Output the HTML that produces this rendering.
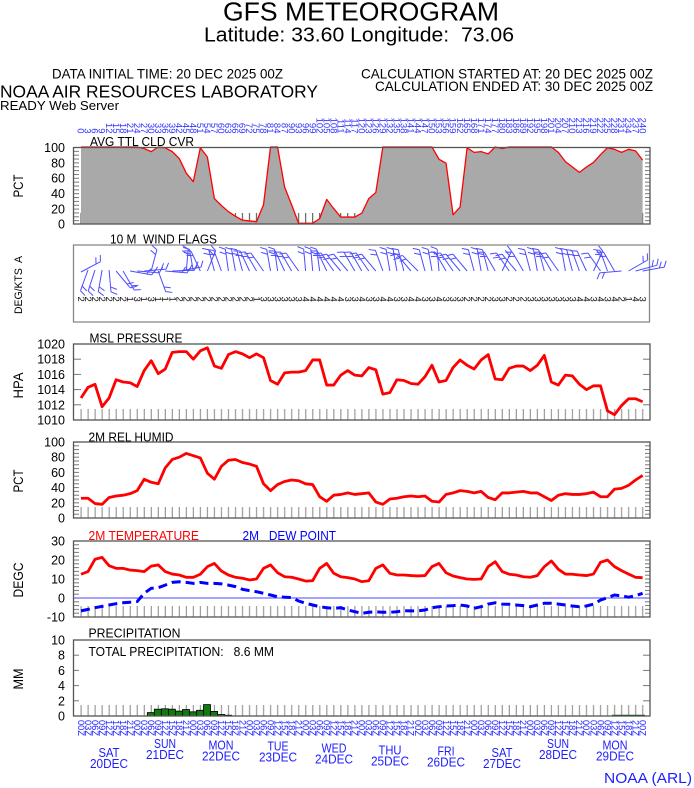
<!DOCTYPE html>
<html><head><meta charset="utf-8"><style>
html,body{margin:0;padding:0;background:#fff;}
svg{display:block;font-family:"Liberation Sans",Arial,sans-serif;}
text{white-space:pre;}
</style></head><body>
<svg width="694" height="788" viewBox="0 0 694 788" xmlns="http://www.w3.org/2000/svg">
<defs>
<pattern id="tk" patternUnits="userSpaceOnUse" x="77.5" y="0" width="7.02" height="20"><rect x="3" y="0" width="1.2" height="20" fill="#9a9a9a"/></pattern>
<pattern id="tkd" patternUnits="userSpaceOnUse" x="77.5" y="0" width="7.02" height="20"><rect x="3" y="0" width="1" height="20" fill="#444"/></pattern>
<pattern id="p1" patternUnits="userSpaceOnUse" x="0" y="147" width="10" height="3.85"><rect width="10" height="1" fill="#777"/></pattern>
<pattern id="p2" patternUnits="userSpaceOnUse" x="0" y="343.5" width="10" height="15.2"><rect width="10" height="1" fill="#777"/></pattern>
<pattern id="p3" patternUnits="userSpaceOnUse" x="0" y="441.5" width="10" height="3.8"><rect width="10" height="1" fill="#777"/></pattern>
<pattern id="p4" patternUnits="userSpaceOnUse" x="0" y="540.5" width="10" height="3.8"><rect width="10" height="1" fill="#777"/></pattern>
<pattern id="p5" patternUnits="userSpaceOnUse" x="0" y="639.5" width="10" height="15.2"><rect width="10" height="1" fill="#777"/></pattern>
<path id="b" d="M0,0V-22M0,-22l-6,-3M0,-17l-6,-3"/>
</defs>

<!-- Header -->
<text x="223" y="20.5" font-size="25.5" textLength="276" lengthAdjust="spacingAndGlyphs">GFS METEOROGRAM</text>
<text x="204" y="41.5" font-size="20.5" textLength="310" lengthAdjust="spacingAndGlyphs">Latitude: 33.60 Longitude:  73.06</text>
<text x="52" y="78.3" font-size="14" textLength="231" lengthAdjust="spacingAndGlyphs">DATA INITIAL TIME: 20 DEC 2025 00Z</text>
<text x="361" y="78.3" font-size="14" textLength="292" lengthAdjust="spacingAndGlyphs">CALCULATION STARTED AT: 20 DEC 2025 00Z</text>
<text x="375" y="91" font-size="14" textLength="278" lengthAdjust="spacingAndGlyphs">CALCULATION ENDED AT: 30 DEC 2025 00Z</text>
<text x="0" y="97.7" font-size="17.5" textLength="318" lengthAdjust="spacingAndGlyphs">NOAA AIR RESOURCES LABORATORY</text>
<text x="0" y="110" font-size="12.5" textLength="119" lengthAdjust="spacingAndGlyphs">READY Web Server</text>

<!-- Top hour labels -->
<g transform="translate(77.7,133.5) rotate(90)" font-size="9.5" fill="#3535ff" text-anchor="end">
<text y="0">0</text><text y="-7.02">3</text><text y="-14.04">6</text><text y="-21.06">9</text><text y="-28.08">12</text><text y="-35.1">15</text><text y="-42.12">18</text><text y="-49.14">21</text><text y="-56.16">24</text><text y="-63.18">27</text>
<text y="-70.2">30</text><text y="-77.22">33</text><text y="-84.24">36</text><text y="-91.26">39</text><text y="-98.28">42</text><text y="-105.3">45</text><text y="-112.32">48</text><text y="-119.34">51</text><text y="-126.36">54</text><text y="-133.38">57</text>
<text y="-140.4">60</text><text y="-147.42">63</text><text y="-154.44">66</text><text y="-161.46">69</text><text y="-168.48">72</text><text y="-175.5">75</text><text y="-182.52">78</text><text y="-189.54">81</text><text y="-196.56">84</text><text y="-203.58">87</text>
<text y="-210.6">90</text><text y="-217.62">93</text><text y="-224.64">96</text><text y="-231.66">99</text><text y="-238.68">102</text><text y="-245.7">105</text><text y="-252.72">108</text><text y="-259.74">111</text><text y="-266.76">114</text><text y="-273.78">117</text>
<text y="-280.8">120</text><text y="-287.82">123</text><text y="-294.84">126</text><text y="-301.86">129</text><text y="-308.88">132</text><text y="-315.9">135</text><text y="-322.92">138</text><text y="-329.94">141</text><text y="-336.96">144</text><text y="-343.98">147</text>
<text y="-351">150</text><text y="-358.02">153</text><text y="-365.04">156</text><text y="-372.06">159</text><text y="-379.08">162</text><text y="-386.1">165</text><text y="-393.12">168</text><text y="-400.14">171</text><text y="-407.16">174</text><text y="-414.18">177</text>
<text y="-421.2">180</text><text y="-428.22">183</text><text y="-435.24">186</text><text y="-442.26">189</text><text y="-449.28">192</text><text y="-456.3">195</text><text y="-463.32">198</text><text y="-470.34">201</text><text y="-477.36">204</text><text y="-484.38">207</text>
<text y="-491.4">210</text><text y="-498.42">213</text><text y="-505.44">216</text><text y="-512.46">219</text><text y="-519.48">222</text><text y="-526.5">225</text><text y="-533.52">228</text><text y="-540.54">231</text><text y="-547.56">234</text><text y="-554.58">237</text>
<text y="-561.6">240</text>
</g>

<!-- ===== Cloud panel ===== -->
<text x="90" y="146" font-size="12.5" textLength="104" lengthAdjust="spacingAndGlyphs">AVG TTL CLD CVR</text>
<rect x="77.5" y="213" width="568" height="11" fill="url(#tkd)"/>
<g transform="translate(81,224) scale(7.02,-0.77)">
<polygon fill="#a9a9a9" points="0,0 0,100 1,100 2,100 3,100 4,100 5,100 6,100 7,100 8,100 9,98 10,94 11,100 12,99 13,94 14,85 15,66 16,55 17,99 18,87 19,33 20,24 21,16 22,10 23,5 24,4 25,3 26,25 27,100 28,100 29,48 30,25 31,1 32,1 33,1 34,7 35,32 36,20 37,9 38,9 39,9 40,14 41,33 42,41 43,100 44,100 45,100 46,100 47,100 48,100 49,100 50,100 51,84 52,79 53,12 54,22 55,99 56,93 57,94 58,91 59,100 60,98 61,100 62,100 63,100 64,100 65,100 66,100 67,100 68,93 69,81 70,74 71,67 72,74 73,80 74,90 75,99 76,97 77,93 78,97 79,95 80,83 80,0"/>
<polyline fill="none" stroke="#ff0000" stroke-width="1.3" vector-effect="non-scaling-stroke" stroke-linejoin="round" points="0,100 1,100 2,100 3,100 4,100 5,100 6,100 7,100 8,100 9,98 10,94 11,100 12,99 13,94 14,85 15,66 16,55 17,99 18,87 19,33 20,24 21,16 22,10 23,5 24,4 25,3 26,25 27,100 28,100 29,48 30,25 31,1 32,1 33,1 34,7 35,32 36,20 37,9 38,9 39,9 40,14 41,33 42,41 43,100 44,100 45,100 46,100 47,100 48,100 49,100 50,100 51,84 52,79 53,12 54,22 55,99 56,93 57,94 58,91 59,100 60,98 61,100 62,100 63,100 64,100 65,100 66,100 67,100 68,93 69,81 70,74 71,67 72,74 73,80 74,90 75,99 76,97 77,93 78,97 79,95 80,83"/>
</g>
<rect x="74" y="147" width="5" height="77" fill="url(#p1)"/>
<rect x="645" y="147" width="5" height="77" fill="url(#p1)"/>
<rect x="73.5" y="147.5" width="576.5" height="76.5" fill="none" stroke="#555" stroke-width="1.3"/>
<g font-size="12.5" text-anchor="end">
<text x="65" y="152">100</text><text x="65" y="167.4">80</text><text x="65" y="182.7">60</text><text x="65" y="198.1">40</text><text x="65" y="213.4">20</text><text x="65" y="228.5">0</text>
</g>
<text transform="translate(23,186) rotate(-90)" font-size="13.5" text-anchor="middle" textLength="23" lengthAdjust="spacingAndGlyphs">PCT</text>

<!-- ===== Wind panel ===== -->
<text x="110" y="243.3" font-size="12.5" textLength="107" lengthAdjust="spacingAndGlyphs">10 M  WIND FLAGS</text>
<rect x="73.5" y="245" width="576" height="77" fill="none" stroke="#888" stroke-width="1.3"/>
<text transform="translate(22,285) rotate(-90)" font-size="11" text-anchor="middle" textLength="58" lengthAdjust="spacingAndGlyphs">DEG/KTS  A</text>
<g stroke="#4d4dff" stroke-width="1" fill="none">
<use href="#b" transform="translate(81,272) rotate(62)"/>
<use href="#b" transform="translate(88,270) rotate(-160)"/>
<use href="#b" transform="translate(95,270) rotate(-162)"/>
<use href="#b" transform="translate(102.1,270) rotate(-170)"/>
<use href="#b" transform="translate(109.1,270) rotate(175)"/>
<use href="#b" transform="translate(116.1,271) rotate(140)"/>
<use href="#b" transform="translate(123.1,271) rotate(150)"/>
<use href="#b" transform="translate(130.1,271) rotate(100)"/>
<use href="#b" transform="translate(137.2,271) rotate(95)"/>
<use href="#b" transform="translate(144.2,271) rotate(85)"/>
<use href="#b" transform="translate(151.2,271) rotate(15)"/>
<use href="#b" transform="translate(158.2,271) rotate(160)"/>
<use href="#b" transform="translate(165.2,271) rotate(95)"/>
<use href="#b" transform="translate(172.3,271) rotate(88)"/>
<use href="#b" transform="translate(179.3,271) rotate(80)"/>
<use href="#b" transform="translate(186.3,271) rotate(5)"/>
<use href="#b" transform="translate(193.3,271) rotate(-10)"/>
<use href="#b" transform="translate(200.3,271) rotate(-25)"/>
<use href="#b" transform="translate(207.4,271) rotate(22)"/>
<use href="#b" transform="translate(214.4,271) rotate(-15)"/>
<use href="#b" transform="translate(221.4,271) rotate(-20)"/>
<use href="#b" transform="translate(228.4,271) rotate(-8)"/>
<use href="#b" transform="translate(235.4,271) rotate(-10)"/>
<use href="#b" transform="translate(242.5,271) rotate(-15)"/>
<use href="#b" transform="translate(249.5,271) rotate(-25)"/>
<use href="#b" transform="translate(256.5,271) rotate(-30)"/>
<use href="#b" transform="translate(263.5,271) rotate(-35)"/>
<use href="#b" transform="translate(270.5,271) rotate(-10)"/>
<use href="#b" transform="translate(277.6,271) rotate(-8)"/>
<use href="#b" transform="translate(284.6,271) rotate(-25)"/>
<use href="#b" transform="translate(291.6,271) rotate(-30)"/>
<use href="#b" transform="translate(298.6,271) rotate(-35)"/>
<use href="#b" transform="translate(305.6,271) rotate(-5)"/>
<use href="#b" transform="translate(312.7,271) rotate(-5)"/>
<use href="#b" transform="translate(319.7,271) rotate(-8)"/>
<use href="#b" transform="translate(326.7,271) rotate(-25)"/>
<use href="#b" transform="translate(333.7,271) rotate(-35)"/>
<use href="#b" transform="translate(340.7,271) rotate(-40)"/>
<use href="#b" transform="translate(347.8,271) rotate(-40)"/>
<use href="#b" transform="translate(354.8,271) rotate(-30)"/>
<use href="#b" transform="translate(361.8,271) rotate(-30)"/>
<use href="#b" transform="translate(368.8,271) rotate(-35)"/>
<use href="#b" transform="translate(375.8,271) rotate(-40)"/>
<use href="#b" transform="translate(382.9,271) rotate(-20)"/>
<use href="#b" transform="translate(389.9,271) rotate(-10)"/>
<use href="#b" transform="translate(396.9,271) rotate(-10)"/>
<use href="#b" transform="translate(403.9,271) rotate(-15)"/>
<use href="#b" transform="translate(410.9,271) rotate(-40)"/>
<use href="#b" transform="translate(418,271) rotate(-45)"/>
<use href="#b" transform="translate(425,271) rotate(-15)"/>
<use href="#b" transform="translate(432,271) rotate(-10)"/>
<use href="#b" transform="translate(439,271) rotate(-5)"/>
<use href="#b" transform="translate(446,271) rotate(-30)"/>
<use href="#b" transform="translate(453.1,271) rotate(-35)"/>
<use href="#b" transform="translate(460.1,271) rotate(-40)"/>
<use href="#b" transform="translate(467.1,271) rotate(-40)"/>
<use href="#b" transform="translate(474.1,271) rotate(-15)"/>
<use href="#b" transform="translate(481.1,271) rotate(-10)"/>
<use href="#b" transform="translate(488.2,271) rotate(-15)"/>
<use href="#b" transform="translate(495.2,271) rotate(-30)"/>
<use href="#b" transform="translate(502.2,271) rotate(25)"/>
<use href="#b" transform="translate(509.2,271) rotate(-35)"/>
<use href="#b" transform="translate(516.2,271) rotate(-40)"/>
<use href="#b" transform="translate(523.3,271) rotate(-30)"/>
<use href="#b" transform="translate(530.3,271) rotate(-15)"/>
<use href="#b" transform="translate(537.3,271) rotate(-10)"/>
<use href="#b" transform="translate(544.3,271) rotate(-15)"/>
<use href="#b" transform="translate(551.3,271) rotate(-30)"/>
<use href="#b" transform="translate(558.4,271) rotate(-35)"/>
<use href="#b" transform="translate(565.4,271) rotate(-10)"/>
<use href="#b" transform="translate(572.4,271) rotate(-15)"/>
<use href="#b" transform="translate(579.4,271) rotate(-20)"/>
<use href="#b" transform="translate(586.4,271) rotate(-25)"/>
<use href="#b" transform="translate(593.5,271) rotate(25)"/>
<use href="#b" transform="translate(600.5,271) rotate(-35)"/>
<use href="#b" transform="translate(607.5,271) rotate(-20)"/>
<use href="#b" transform="translate(614.5,271) rotate(-30)"/>
<use href="#b" transform="translate(621.5,271) rotate(-95)"/>
<use href="#b" transform="translate(628.6,271) rotate(60)"/>
<use href="#b" transform="translate(635.6,271) rotate(75)"/>
<use href="#b" transform="translate(642.6,271) rotate(80)"/>
</g>
<text y="296.5" font-size="9.5" fill="#111" rotate="90" x="78 85 92 99.1 106.1 113.1 120.1 127.1 134.2 141.2 148.2 155.2 162.2 169.3 176.3 183.3 190.3 197.3 204.4 211.4 218.4 225.4 232.4 239.5 246.5 253.5 260.5 267.5 274.6 281.6 288.6 295.6 302.6 309.7 316.7 323.7 330.7 337.7 344.8 351.8 358.8 365.8 372.8 379.9 386.9 393.9 400.9 407.9 415 422 429 436 443 450.1 457.1 464.1 471.1 478.1 485.2 492.2 499.2 506.2 513.2 520.3 527.3 534.3 541.3 548.3 555.4 562.4 569.4 576.4 583.4 590.5 597.5 604.5 611.5 618.5 625.6 632.6 639.6">222222213131112222222222213333334444443343344334433433322223322233333334434342143</text>

<!-- ===== Pressure panel ===== -->
<text x="89.5" y="342.6" font-size="12.5" textLength="93" lengthAdjust="spacingAndGlyphs">MSL PRESSURE</text>
<rect x="77.5" y="409" width="568" height="11" fill="url(#tk)"/>
<rect x="74" y="344" width="7" height="76" fill="url(#p2)"/>
<rect x="643" y="344" width="7" height="76" fill="url(#p2)"/>
<g transform="translate(81,420) scale(7.02,-7.6)">
<polyline fill="none" stroke="#ff0000" stroke-width="2.8" vector-effect="non-scaling-stroke" stroke-linejoin="round" points="0,2.9 1,4.3 2,4.7 3,1.75 4,2.9 5,5.3 6,5 7,4.9 8,4.4 9,6.5 10,7.8 11,6.1 12,6.7 13,8.9 14,9 15,9 16,8 17,9.1 18,9.5 19,7.1 20,6.8 21,8.6 22,9 23,8.7 24,8.2 25,8.7 26,8.2 27,5.2 28,4.7 29,6.2 30,6.3 31,6.3 32,6.5 33,7.9 34,7.9 35,4.6 36,4.6 37,5.9 38,6.5 39,5.9 40,5.8 41,6.9 42,6.6 43,3.4 44,3.6 45,5.3 46,5.2 47,4.8 48,4.7 49,5.7 50,7.2 51,5 52,5.2 53,6.9 54,7.9 55,7.2 56,6.7 57,7.9 58,8.6 59,5.4 60,5.3 61,6.8 62,7.1 63,7.1 64,6.5 65,7.2 66,8.5 67,5 68,4.6 69,5.9 70,5.8 71,4.7 72,4 73,4.5 74,4.5 75,1.2 76,0.7 77,1.9 78,2.8 79,2.8 80,2.4"/>
</g>
<rect x="73.5" y="344" width="576.5" height="76" fill="none" stroke="#555" stroke-width="1.3"/>
<g font-size="12.5" text-anchor="end">
<text x="65" y="348.5">1020</text><text x="65" y="363.7">1018</text><text x="65" y="378.9">1016</text><text x="65" y="394.1">1014</text><text x="65" y="409.3">1012</text><text x="65" y="424.5">1010</text>
</g>
<text transform="translate(23,385.5) rotate(-90)" font-size="13.5" text-anchor="middle" textLength="26" lengthAdjust="spacingAndGlyphs">HPA</text>

<!-- ===== Humidity panel ===== -->
<text x="88.5" y="441.5" font-size="12.5" textLength="85" lengthAdjust="spacingAndGlyphs">2M REL HUMID</text>
<rect x="77.5" y="507" width="568" height="11" fill="url(#tk)"/>
<rect x="74" y="442" width="5" height="76" fill="url(#p3)"/>
<rect x="645" y="442" width="5" height="76" fill="url(#p3)"/>
<g transform="translate(81,518) scale(7.02,-0.76)">
<polyline fill="none" stroke="#ff0000" stroke-width="2.8" vector-effect="non-scaling-stroke" stroke-linejoin="round" points="0,26 1,26 2,19 3,18 4,27 5,29 6,30 7,32 8,36 9,51 10,47 11,45 12,66 13,77 14,80 15,85 16,82 17,79 18,59 19,51 20,68 21,76 22,77 23,73 24,71 25,68 26,45 27,36 28,44 29,48 30,50 31,49 32,45 33,44 34,28 35,22 36,30 37,31 38,33 39,31 40,32 41,33 42,21 43,18 44,25 45,26 46,28 47,29 48,28 49,29 50,22 51,21 52,31 53,33 54,36 55,35 56,33 57,35 58,27 59,24 60,33 61,33 62,34 63,35 64,33 65,33 66,28 67,23 68,30 69,32 70,31 71,31 72,32 73,34 74,28 75,28 76,38 77,39 78,43 79,50 80,56"/>
</g>
<rect x="73.5" y="442" width="576.5" height="76" fill="none" stroke="#555" stroke-width="1.3"/>
<g font-size="12.5" text-anchor="end">
<text x="65" y="446.5">100</text><text x="65" y="461.7">80</text><text x="65" y="476.9">60</text><text x="65" y="492.1">40</text><text x="65" y="507.3">20</text><text x="65" y="522.5">0</text>
</g>
<text transform="translate(23,481) rotate(-90)" font-size="13.5" text-anchor="middle" textLength="23" lengthAdjust="spacingAndGlyphs">PCT</text>

<!-- ===== Temperature panel ===== -->
<text x="88.5" y="540" font-size="12.5" fill="#ff0000" textLength="110.5" lengthAdjust="spacingAndGlyphs">2M TEMPERATURE</text>
<text x="242.5" y="540" font-size="12.5" fill="#0000ff" textLength="93.5" lengthAdjust="spacingAndGlyphs">2M   DEW POINT</text>
<rect x="77.5" y="606" width="568" height="11" fill="url(#tk)"/>
<rect x="74" y="541" width="5" height="76" fill="url(#p4)"/>
<rect x="645" y="541" width="5" height="76" fill="url(#p4)"/>
<line x1="74" y1="598" x2="650" y2="598" stroke="#4a4aff" stroke-width="1"/>
<g transform="translate(81,598) scale(7.02,-1.9)">
<polyline fill="none" stroke="#ff0000" stroke-width="2.8" vector-effect="non-scaling-stroke" stroke-linejoin="round" points="0,12.5 1,13.9 2,20.4 3,21.4 4,17 5,15.6 6,15.6 7,14.7 8,14.4 9,13.9 10,16.8 11,17.4 12,13.9 13,12.6 14,12.1 15,10.9 16,10.9 17,12.5 18,16.5 19,18.2 20,14.2 21,12.1 22,10.9 23,10.4 24,9.5 25,10 26,15.6 27,17.4 28,13.3 29,11.2 30,10.9 31,10 32,8.9 33,9.1 34,15.6 35,18.2 36,13 37,11.2 38,10.7 39,10 40,8.6 41,9.1 42,15.6 43,17.4 44,13 45,12.1 46,12.1 47,11.8 48,11.6 49,11.8 50,16.5 51,18.2 52,13.3 53,11.6 54,10.7 55,10 56,9.8 57,10 58,16.5 59,19.1 60,13.9 61,12.5 62,12.1 63,11.2 64,10.9 65,11.8 66,16.5 67,19.5 68,15.1 69,12.6 70,12.5 71,12.1 72,11.8 73,12.6 74,18.8 75,20 76,16.5 77,14.4 78,12.6 79,10.9 80,10.7"/>
</g>
<polyline fill="none" stroke="#0000ff" stroke-width="3" stroke-dasharray="9,5" points="81,610.9 88,609.4 95,607.7 102.1,606.4 109.1,605 116.1,603.7 123.1,602.8 130.1,602.2 137.2,601.6 144.2,593.3 151.2,588.3 158.2,587.7 165.2,585.1 172.3,582.4 179.3,581.7 186.3,582.4 193.3,583.4 200.3,582.4 207.4,583.4 214.4,583.4 221.4,583.9 228.4,585.1 235.4,586.6 242.5,589.3 249.5,590.6 256.5,591.7 263.5,593.3 270.5,595 277.6,596.7 284.6,597.2 291.6,597.6 298.6,601 305.6,603.3 312.7,605 319.7,606.7 326.7,607.7 333.7,608.3 340.7,607.7 347.8,610 354.8,611.7 361.8,613.4 368.8,612.3 375.8,611.7 382.9,612.3 389.9,612.3 396.9,611.7 403.9,610.7 410.9,610.9 418,610.9 425,610 432,607.7 439,606.7 446,606 453.1,605.6 460.1,605 467.1,606 474.1,608.3 481.1,606.7 488.2,604.1 495.2,602.8 502.2,604.1 509.2,604.3 516.2,605 523.3,605.6 530.3,606.7 537.3,605 544.3,603.3 551.3,603.3 558.4,604.1 565.4,605 572.4,606 579.4,606.7 586.4,606 593.5,604.1 600.5,600.1 607.5,597.6 614.5,595 621.5,595.9 628.6,597.2 635.6,595.7 642.6,593.3"/>
<rect x="73.5" y="541" width="576.5" height="76" fill="none" stroke="#555" stroke-width="1.3"/>
<g font-size="12.5" text-anchor="end">
<text x="65" y="545.5">30</text><text x="65" y="564.5">20</text><text x="65" y="583.5">10</text><text x="65" y="602.5">0</text><text x="65" y="621.5">-10</text>
</g>
<text transform="translate(23,580) rotate(-90)" font-size="13.5" text-anchor="middle" textLength="35" lengthAdjust="spacingAndGlyphs">DEGC</text>

<!-- ===== Precipitation panel ===== -->
<text x="88.5" y="637.5" font-size="12.5" textLength="92" lengthAdjust="spacingAndGlyphs">PRECIPITATION</text>
<text x="88.5" y="656" font-size="12.5" textLength="185.5" lengthAdjust="spacingAndGlyphs">TOTAL PRECIPITATION:   8.6 MM</text>
<rect x="77.5" y="705" width="568" height="11" fill="url(#tk)"/>
<rect x="643" y="640" width="7" height="76" fill="url(#p5)"/>
<rect x="74" y="640" width="5" height="76" fill="url(#p5)"/>
<g fill="#107a10" stroke="#000" stroke-width="0.8">
<rect x="147.3" y="712.6" width="7" height="3.4"/>
<rect x="154.3" y="709.2" width="7" height="6.8"/>
<rect x="161.4" y="708.8" width="7" height="7.2"/>
<rect x="168.4" y="709.2" width="7" height="6.8"/>
<rect x="175.4" y="711.1" width="7" height="4.9"/>
<rect x="182.5" y="709.5" width="7" height="6.5"/>
<rect x="189.5" y="711.8" width="7" height="4.2"/>
<rect x="196.5" y="710.3" width="7" height="5.7"/>
<rect x="203.5" y="704.6" width="7" height="11.4"/>
<rect x="210.6" y="711.4" width="7" height="4.6"/>
<rect x="217.6" y="714.5" width="7" height="1.5"/>
<rect x="224.6" y="715.2" width="7" height="0.8"/>
</g>
<line x1="612" y1="715.3" x2="645" y2="715.3" stroke="#105510" stroke-width="1"/>
<rect x="73.5" y="640" width="576.5" height="76" fill="none" stroke="#555" stroke-width="1.3"/>
<g font-size="12.5" text-anchor="end">
<text x="65" y="644.5">10</text><text x="65" y="659.7">8</text><text x="65" y="674.9">6</text><text x="65" y="690.1">4</text><text x="65" y="705.3">2</text><text x="65" y="720.5">0</text>
</g>
<text transform="translate(23,679) rotate(-90)" font-size="13.5" text-anchor="middle" textLength="21" lengthAdjust="spacingAndGlyphs">MM</text>

<!-- Bottom hour labels -->
<g transform="translate(77.8,720) rotate(90)" font-size="9.3" fill="#2020ff">
<text y="0">00Z</text><text y="-7.02">03Z</text><text y="-14.04">06Z</text><text y="-21.06">09Z</text><text y="-28.08">12Z</text><text y="-35.1">15Z</text><text y="-42.12">18Z</text><text y="-49.14">21Z</text>
<text y="-56.16">00Z</text><text y="-63.18">03Z</text><text y="-70.2">06Z</text><text y="-77.22">09Z</text><text y="-84.24">12Z</text><text y="-91.26">15Z</text><text y="-98.28">18Z</text><text y="-105.3">21Z</text>
<text y="-112.32">00Z</text><text y="-119.34">03Z</text><text y="-126.36">06Z</text><text y="-133.38">09Z</text><text y="-140.4">12Z</text><text y="-147.42">15Z</text><text y="-154.44">18Z</text><text y="-161.46">21Z</text>
<text y="-168.48">00Z</text><text y="-175.5">03Z</text><text y="-182.52">06Z</text><text y="-189.54">09Z</text><text y="-196.56">12Z</text><text y="-203.58">15Z</text><text y="-210.6">18Z</text><text y="-217.62">21Z</text>
<text y="-224.64">00Z</text><text y="-231.66">03Z</text><text y="-238.68">06Z</text><text y="-245.7">09Z</text><text y="-252.72">12Z</text><text y="-259.74">15Z</text><text y="-266.76">18Z</text><text y="-273.78">21Z</text>
<text y="-280.8">00Z</text><text y="-287.82">03Z</text><text y="-294.84">06Z</text><text y="-301.86">09Z</text><text y="-308.88">12Z</text><text y="-315.9">15Z</text><text y="-322.92">18Z</text><text y="-329.94">21Z</text>
<text y="-336.96">00Z</text><text y="-343.98">03Z</text><text y="-351">06Z</text><text y="-358.02">09Z</text><text y="-365.04">12Z</text><text y="-372.06">15Z</text><text y="-379.08">18Z</text><text y="-386.1">21Z</text>
<text y="-393.12">00Z</text><text y="-400.14">03Z</text><text y="-407.16">06Z</text><text y="-414.18">09Z</text><text y="-421.2">12Z</text><text y="-428.22">15Z</text><text y="-435.24">18Z</text><text y="-442.26">21Z</text>
<text y="-449.28">00Z</text><text y="-456.3">03Z</text><text y="-463.32">06Z</text><text y="-470.34">09Z</text><text y="-477.36">12Z</text><text y="-484.38">15Z</text><text y="-491.4">18Z</text><text y="-498.42">21Z</text>
<text y="-505.44">00Z</text><text y="-512.46">03Z</text><text y="-519.48">06Z</text><text y="-526.5">09Z</text><text y="-533.52">12Z</text><text y="-540.54">15Z</text><text y="-547.56">18Z</text><text y="-554.58">21Z</text>
<text y="-561.6">00Z</text>
</g>

<!-- Day labels -->
<g font-size="12.5" fill="#2020ff" text-anchor="middle">
<text x="109" y="757" textLength="21" lengthAdjust="spacingAndGlyphs">SAT</text><text x="109" y="768" textLength="38" lengthAdjust="spacingAndGlyphs">20DEC</text>
<text x="165" y="748" textLength="22" lengthAdjust="spacingAndGlyphs">SUN</text><text x="165" y="759" textLength="38" lengthAdjust="spacingAndGlyphs">21DEC</text>
<text x="221" y="749.5" textLength="25" lengthAdjust="spacingAndGlyphs">MON</text><text x="221" y="760.5" textLength="38" lengthAdjust="spacingAndGlyphs">22DEC</text>
<text x="278" y="750.5" textLength="21" lengthAdjust="spacingAndGlyphs">TUE</text><text x="278" y="761.5" textLength="38" lengthAdjust="spacingAndGlyphs">23DEC</text>
<text x="334" y="752.5" textLength="25" lengthAdjust="spacingAndGlyphs">WED</text><text x="334" y="763.5" textLength="38" lengthAdjust="spacingAndGlyphs">24DEC</text>
<text x="390" y="754.5" textLength="23" lengthAdjust="spacingAndGlyphs">THU</text><text x="390" y="765.5" textLength="38" lengthAdjust="spacingAndGlyphs">25DEC</text>
<text x="446" y="755.5" textLength="17" lengthAdjust="spacingAndGlyphs">FRI</text><text x="446" y="766.5" textLength="38" lengthAdjust="spacingAndGlyphs">26DEC</text>
<text x="502" y="757" textLength="21" lengthAdjust="spacingAndGlyphs">SAT</text><text x="502" y="768" textLength="38" lengthAdjust="spacingAndGlyphs">27DEC</text>
<text x="558" y="748" textLength="22" lengthAdjust="spacingAndGlyphs">SUN</text><text x="558" y="759" textLength="38" lengthAdjust="spacingAndGlyphs">28DEC</text>
<text x="615" y="749.5" textLength="25" lengthAdjust="spacingAndGlyphs">MON</text><text x="615" y="760.5" textLength="38" lengthAdjust="spacingAndGlyphs">29DEC</text>
</g>
<text x="604" y="783" font-size="15" fill="#2020ff" textLength="88" lengthAdjust="spacingAndGlyphs">NOAA (ARL)</text>
</svg>
</body></html>
